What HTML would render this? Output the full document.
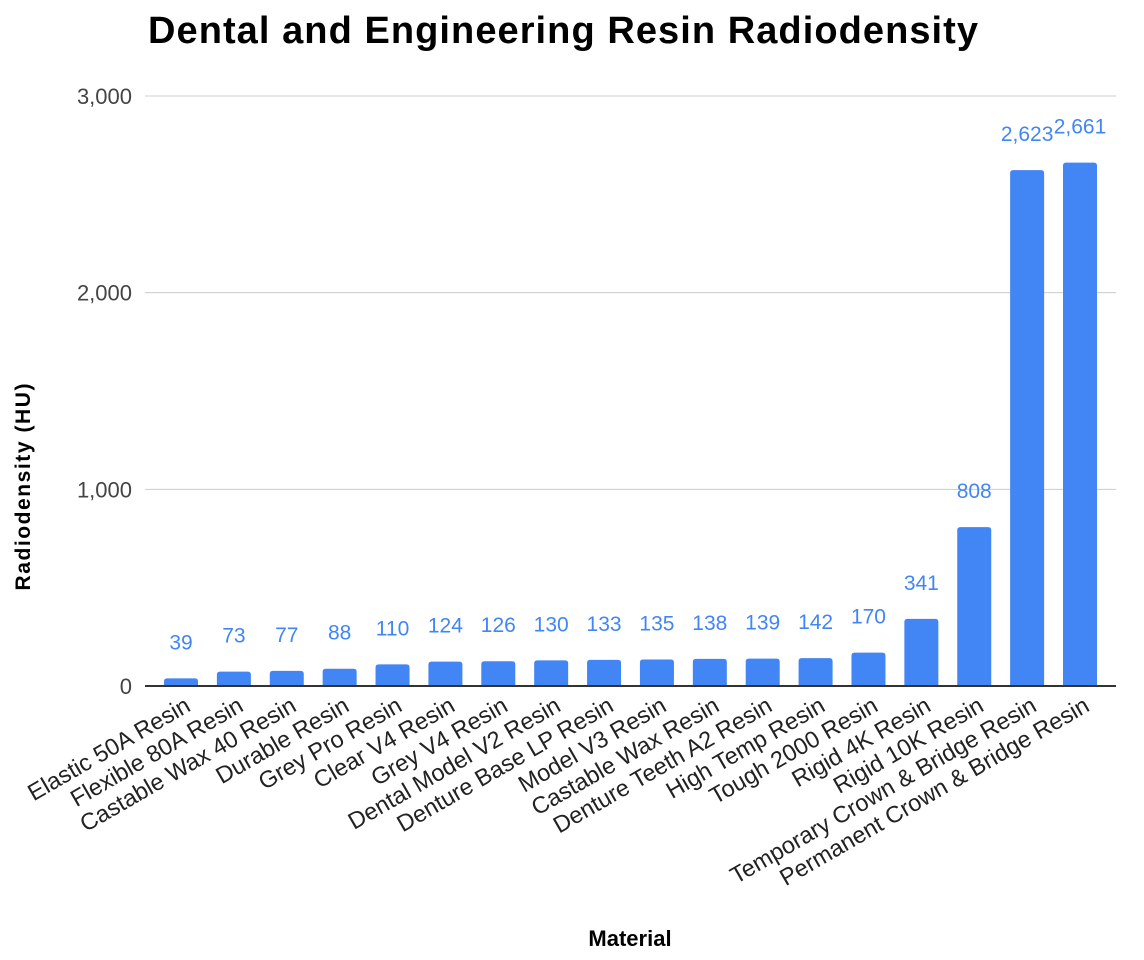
<!DOCTYPE html>
<html><head><meta charset="utf-8"><style>
html,body{margin:0;padding:0;background:#fff;}
svg{display:block;font-family:"Liberation Sans",Arial,sans-serif;}
</style></head><body>
<svg id="chart" width="1144" height="960">
<text x="563" y="43" text-anchor="middle" font-size="38" font-weight="bold" fill="#000" textLength="830">Dental and Engineering Resin Radiodensity</text>
<text transform="translate(30,487) rotate(-90)" text-anchor="middle" font-size="21" font-weight="bold" fill="#000" textLength="207">Radiodensity (HU)</text>
<text x="630" y="946" text-anchor="middle" font-size="22" font-weight="bold" fill="#000">Material</text>
<g id="grid"></g><g id="bars"></g><g id="xlabels"></g>
</svg>
<script>
const categories=["Elastic 50A Resin","Flexible 80A Resin","Castable Wax 40 Resin","Durable Resin","Grey Pro Resin","Clear V4 Resin","Grey V4 Resin","Dental Model V2 Resin","Denture Base LP Resin","Model V3 Resin","Castable Wax Resin","Denture Teeth A2 Resin","High Temp Resin","Tough 2000 Resin","Rigid 4K Resin","Rigid 10K Resin","Temporary Crown & Bridge Resin","Permanent Crown & Bridge Resin"];
const values=[39,73,77,88,110,124,126,130,133,135,138,139,142,170,341,808,2623,2661];
const ticks=[0,1000,2000,3000];
const tickLabels=["0","1,000","2,000","3,000"];
const NS="http://www.w3.org/2000/svg";
const y0=686,yTop=96,vmax=3000,left=145,right=1116;
function y(v){return y0-(v/vmax)*(y0-yTop);}
const step=(1080-181)/17;
function x(i){return 181+i*step;}
function mk(t,a,p){const e=document.createElementNS(NS,t);for(const k in a)e.setAttribute(k,a[k]);p.appendChild(e);return e;}
const grid=document.getElementById('grid'),bars=document.getElementById('bars'),xl=document.getElementById('xlabels');
ticks.forEach((t,i)=>{
  if(t>0){const l=mk('line',{x1:left,x2:right,y1:y(t),y2:y(t),stroke:'#ccc','stroke-width':1},grid);
  
  }
  const tx=mk('text',{x:132,y:y(t)+8,'text-anchor':'end','font-size':22,fill:'#444'},grid);
  tx.textContent=tickLabels[i];
  
  
});
const bw=34;
values.forEach((v,i)=>{
  const r=mk('path',{d:`M${x(i)-bw/2},${y0} V${y(v)+3} q0,-3 3,-3 h${bw-6} q3,0 3,3 V${y0} Z`,fill:'#4285f4'},bars);
  
  
  const t=mk('text',{x:x(i),y:y(v)-29,'text-anchor':'middle','font-size':21,fill:'#4285f4'},bars);
  t.textContent=v.toLocaleString('en-US');
  
  
  const lb=mk('text',{transform:`translate(${x(i)+11},${y0+24}) rotate(-30)`,'text-anchor':'end','font-size':23.5,fill:'#222'},xl);
  lb.textContent=categories[i];
  
  
});
const ax=mk('line',{x1:left,x2:right,y1:y0,y2:y0,stroke:'#333','stroke-width':2},bars);


</script>
</body></html>
